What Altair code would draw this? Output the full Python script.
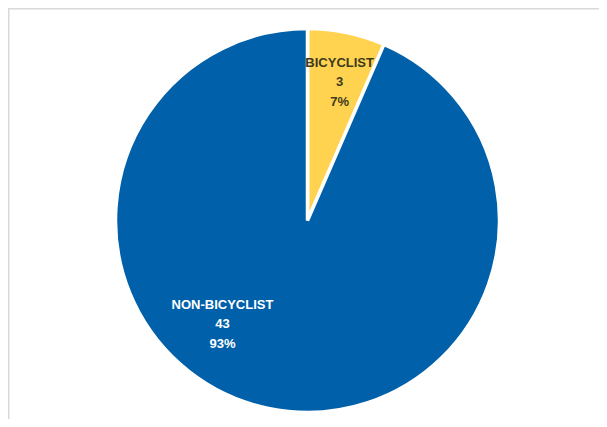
import altair as alt
import pandas as pd

categories = ["BICYCLIST", "NON-BICYCLIST"]
counts = [3, 43]
colors = ["#FFD34F", "#0060A9"]
label_colors = ["#3d3a1e", "#ffffff"]

df = pd.DataFrame({"category": categories, "count": counts, "order": [0, 1]})

W, H = 591, 411
CX, CY = 299.5, 212.5
R = 192

base = alt.Chart(df).transform_joinaggregate(total="sum(count)").transform_calculate(
    pct="round(datum.count / datum.total * 100) + '%'"
)

theta = alt.Theta("count:Q", stack=True)
order = alt.Order("order:Q")

pie = base.mark_arc(stroke="white", strokeWidth=3.5, radius=R).encode(
    theta=theta,
    order=order,
    color=alt.Color("category:N", scale=alt.Scale(domain=categories, range=colors), legend=None),
    x=alt.value(CX),
    y=alt.value(CY),
)

def label_layer(cat, color, radius, dx, dy):
    return base.transform_calculate(
        label=f"datum.category == '{cat}' ? datum.category + '\\n' + datum.count + '\\n' + datum.pct : ''"
    ).mark_text(
        radius=radius, dx=dx, dy=dy, lineBreak="\n", fontSize=13, fontWeight="bold",
        font="Liberation Sans", color=color, lineHeight=19.5, align="center", baseline="middle",
    ).encode(
        theta=theta, order=order, text="label:N", x=alt.value(CX), y=alt.value(CY)
    )

lab1 = label_layer(categories[0], label_colors[0], 141, 3.5, -19.5)
lab2 = label_layer(categories[1], label_colors[1], 118, -61, -31.5)

one = alt.Data(values=[{"a": 1}])
top = alt.Chart(one).mark_rule(color="#d9d9d9", strokeWidth=1.5).encode(
    x=alt.value(0), x2=alt.value(W), y=alt.value(0.75)
)
left = alt.Chart(one).mark_rule(color="#d9d9d9", strokeWidth=1.5).encode(
    x=alt.value(0.75), y=alt.value(0), y2=alt.value(H)
)

chart = alt.layer(top, left, pie, lab1, lab2).properties(
    width=W, height=H, padding=0, background="white",
    autosize=alt.AutoSizeParams(type="none"),
).configure_view(stroke=None)

chart.save("out.html", embed_options={"renderer": "svg", "actions": False})
